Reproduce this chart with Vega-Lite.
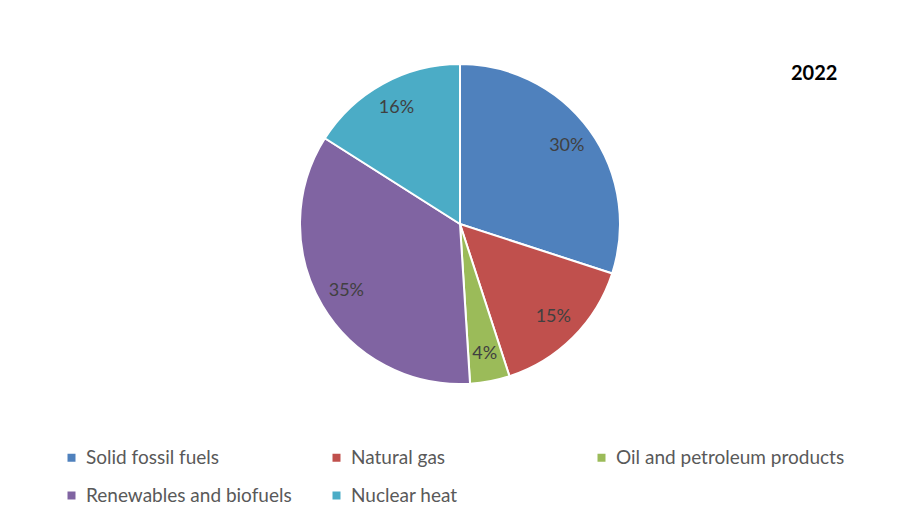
{
  "$schema": "https://vega.github.io/schema/vega-lite/v6.json",
  "width": 320,
  "height": 320,
  "autosize": {"type": "none"},
  "padding": {"left": 300, "top": 64, "right": 280, "bottom": 136},
  "background": "white",
  "config": {"view": {"stroke": null}, "font": "Lato"},
  "title": {
    "text": "2022",
    "anchor": "start",
    "frame": "group",
    "dx": 491,
    "fontSize": 20,
    "fontWeight": "bold",
    "color": "#000000",
    "font": "Lato",
    "baseline": "alphabetic",
    "offset": -40
  },
  "data": {
    "values": [
      {"source": "Solid fossil fuels", "share": 0.30, "order": 1},
      {"source": "Natural gas", "share": 0.15, "order": 2},
      {"source": "Oil and petroleum products", "share": 0.04, "order": 3},
      {"source": "Renewables and biofuels", "share": 0.35, "order": 4},
      {"source": "Nuclear heat", "share": 0.16, "order": 5}
    ]
  },
  "encoding": {
    "theta": {"field": "share", "type": "quantitative", "stack": true},
    "order": {"field": "order", "type": "quantitative"}
  },
  "layer": [
    {
      "mark": {"type": "arc", "stroke": "white", "strokeWidth": 2},
      "encoding": {
        "color": {
          "field": "source",
          "type": "nominal",
          "sort": null,
          "scale": {
            "domain": ["Solid fossil fuels", "Natural gas", "Oil and petroleum products", "Renewables and biofuels", "Nuclear heat"],
            "range": ["#4F81BD", "#C0504D", "#9BBB59", "#8064A2", "#4BACC6"]
          },
          "legend": {
            "title": null,
            "orient": "none",
            "legendX": -238,
            "legendY": 384,
            "direction": "horizontal",
            "columns": 3,
            "padding": 0,
            "symbolType": "square",
            "symbolSize": 64,
            "symbolStrokeWidth": 0,
            "labelFontSize": 19,
            "labelFont": "Lato",
            "labelColor": "#595959",
            "labelOffset": 5,
            "labelLimit": 400,
            "columnPadding": 12,
            "rowPadding": 18,
            "gridAlign": "all"
          }
        }
      }
    },
    {
      "mark": {"type": "text", "radius": 132, "fontSize": 18, "font": "Lato", "fill": "#404040"},
      "encoding": {
        "text": {"field": "share", "type": "quantitative", "format": ".0%"}
      }
    }
  ]
}
